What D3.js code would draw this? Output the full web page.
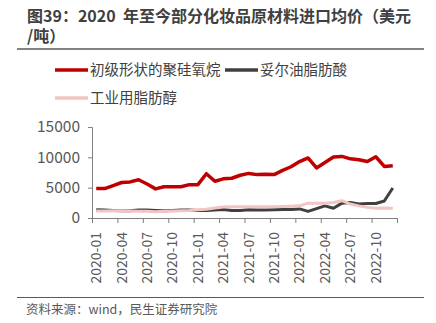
<!DOCTYPE html>
<html>
<head>
<meta charset="utf-8">
<script src="https://cdn.jsdelivr.net/npm/d3@7"></script>
<style>
  body { margin: 0; background: #fff; }
  svg { display: block; }
  text { font-family: "Noto Sans CJK SC", "DejaVu Sans", sans-serif; }
</style>
</head>
<body>
<div id="chart"></div>
<script>
// months 2020-01 .. 2022-12
var months = [];
[2020, 2021, 2022].forEach(function (yr) {
    for (var m = 1; m <= 12; m++) months.push(yr + "-" + (m < 10 ? "0" + m : m));
});

var seriesNames = ["初级形状的聚硅氧烷", "妥尔油脂肪酸", "工业用脂肪醇"];

var siloxane = [4850, 4850, 5350, 5850, 5950, 6300, 5600, 4800, 5150, 5150, 5150, 5500,
    5500, 7300, 6050, 6450, 6550, 7050, 7350, 7150, 7200, 7150, 7850, 8450,
    9300, 9900, 8250, 9150, 10050, 10150, 9750, 9600, 9300, 10100, 8500, 8600];

var tallOil = [1350, 1300, 1250, 1200, 1200, 1300, 1300, 1250, 1200, 1250, 1300, 1300,
    1250, 1250, 1300, 1400, 1250, 1250, 1350, 1300, 1300, 1350, 1400, 1400,
    1500, 1100, 1550, 2000, 1600, 2450, 2550, 2300, 2400, 2400, 2800, 4950];

var fattyAlcohol = [1150, 1150, 1200, 1200, 1150, 1100, 1100, 1050, 1100, 1150, 1200, 1250,
    1350, 1450, 1650, 1800, 1850, 1850, 1850, 1850, 1850, 1850, 1900, 1950,
    2000, 2450, 2450, 2450, 2550, 2850, 2300, 2000, 1750, 1600, 1650, 1600];

var yTicks = [0, 5000, 10000, 15000];
var colors = ["#c00000", "#404040", "#f2c4c2"];

function draw() {
    var w = 436, h = 323;
    var svg = d3.select("#chart").append("svg")
        .attr("width", w)
        .attr("height", h);

    // title (two lines, wrapped like the reference)
    svg.append("text").attr("x", 27).attr("y", 22)
        .attr("font-size", "16px").attr("font-weight", "bold").attr("fill", "#404040")
        .text("图39：2020\u00a0\u00a0年至今部分化妆品原材料进口均价（美元");
    svg.append("text").attr("x", 27).attr("y", 42)
        .attr("font-size", "16px").attr("font-weight", "bold").attr("fill", "#404040")
        .text("/吨）");
    svg.append("line").attr("x1", 17).attr("x2", 424).attr("y1", 49).attr("y2", 49)
        .attr("stroke", "#595959").attr("stroke-width", 1.5);

    // legend
    var legendPos = [[55, 70], [225, 70], [55, 98]];
    seriesNames.forEach(function (name, i) {
        var p = legendPos[i];
        svg.append("line").attr("x1", p[0]).attr("x2", p[0] + 33)
            .attr("y1", p[1]).attr("y2", p[1])
            .attr("stroke", colors[i]).attr("stroke-width", 3.5);
        svg.append("text").attr("x", p[0] + 35).attr("y", p[1] + 5)
            .attr("font-size", "14.5px").attr("fill", "#404040")
            .text(name);
    });

    var left = 92, right = 397, top = 127, bottom = 218;

    var xBand = d3.scaleBand().domain(months).range([left, right]);
    var xIdx = d3.scaleLinear().domain([0, months.length]).range([left, right]);
    var y = d3.scaleLinear().domain([0, 15000]).range([bottom, top]);

    // y axis
    var yAxis = d3.axisLeft(y).tickValues(yTicks).tickSize(4).tickPadding(8)
        .tickFormat(d3.format("d"));
    var gy = svg.append("g").attr("transform", "translate(" + left + ",0)").call(yAxis);
    gy.select(".domain").attr("stroke", "#7f7f7f");
    gy.selectAll(".tick line").attr("stroke", "#7f7f7f");
    gy.selectAll(".tick text").attr("font-size", "15.5px").attr("fill", "#595959")
        .attr("font-family", "'Noto Sans CJK SC', sans-serif");

    // x axis: tick marks on category boundaries every 3 months
    var xAxis = d3.axisBottom(xIdx).tickValues(d3.range(0, months.length + 1, 3))
        .tickSize(5).tickFormat("");
    var gx = svg.append("g").attr("transform", "translate(0," + bottom + ")").call(xAxis);
    gx.select(".domain").attr("stroke", "#7f7f7f");
    gx.selectAll(".tick line").attr("stroke", "#7f7f7f");

    svg.selectAll(".xlab")
        .data(months.filter(function (d, i) { return i % 3 === 0; }))
        .enter().append("text")
        .attr("class", "xlab")
        .attr("transform", function (d) {
            return "translate(" + (xBand(d) + xBand.bandwidth() / 2) + ",232) rotate(-90)";
        })
        .attr("text-anchor", "end")
        .attr("dy", "0.35em")
        .attr("font-size", "14px")
        .attr("fill", "#595959")
        .text(function (d) { return d; });

    // lines
    var line = d3.line()
        .x(function (d, i) { return xBand(months[i]) + xBand.bandwidth() / 2; })
        .y(function (d) { return y(d); });

    [siloxane, tallOil, fattyAlcohol].forEach(function (s, i) {
        svg.append("path").datum(s)
            .attr("d", line)
            .attr("fill", "none")
            .attr("stroke", colors[i])
            .attr("stroke-width", i === 0 ? 3.5 : 3)
            .attr("stroke-linejoin", "round");
    });

    // footer
    svg.append("line").attr("x1", 17).attr("x2", 424).attr("y1", 297.5).attr("y2", 297.5)
        .attr("stroke", "#595959").attr("stroke-width", 1.2);
    svg.append("text").attr("x", 26).attr("y", 314)
        .attr("font-size", "12.5px").attr("fill", "#595959")
        .text("资料来源：wind，民生证券研究院");
}

window.onload = draw;
</script>
</body>
</html>
